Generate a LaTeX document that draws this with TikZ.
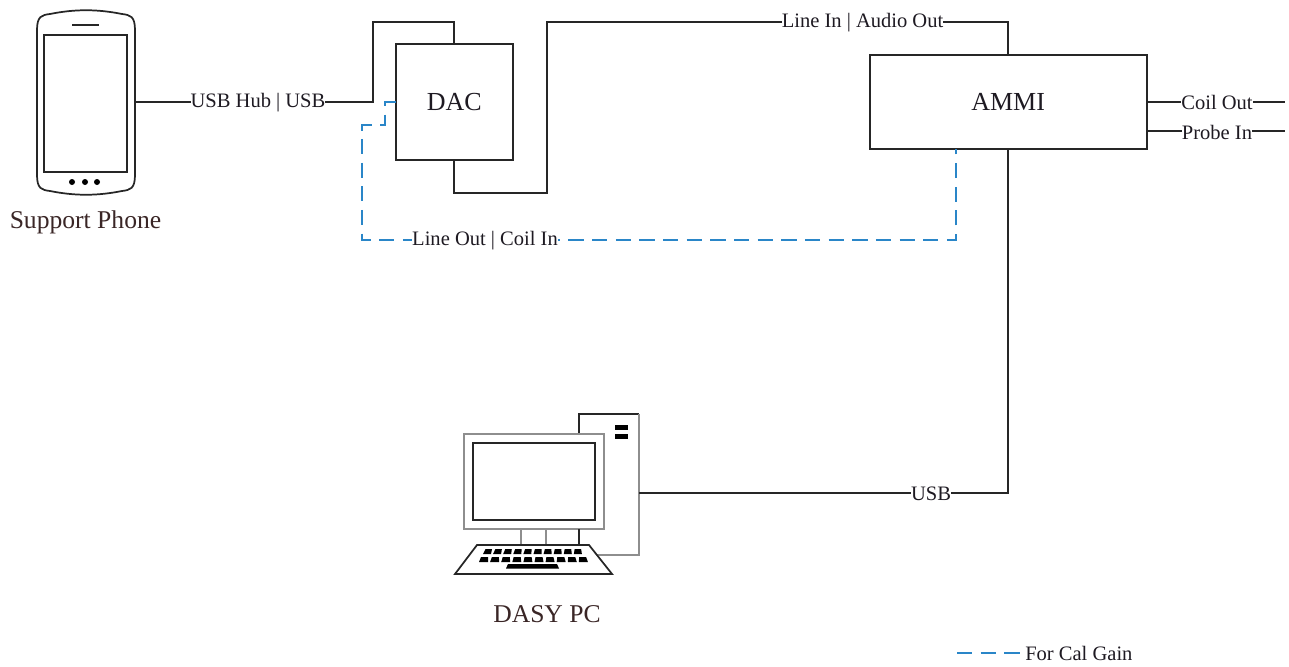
\documentclass[tikz,border=0pt]{standalone}
\usepackage{fontspec}
\setmainfont{Liberation Serif}
\definecolor{ink}{HTML}{262626}
\definecolor{txt}{HTML}{1E1A22}
\definecolor{cap}{HTML}{3A2626}
\definecolor{dashblue}{HTML}{2A86C8}
\definecolor{grayline}{HTML}{8E8E8E}
\tikzset{
  wire/.style={draw=ink,line width=1.4pt},
  dashwire/.style={draw=dashblue,line width=1.3pt,dash pattern=on 11.4pt off 6.34pt},
  blockbox/.style={draw=ink,line width=1.4pt,fill=white,font=\fontsize{19.5}{22}\selectfont,text=txt,inner sep=0pt},
  lbl/.style={fill=white,inner sep=0pt,font=\fontsize{15.4}{17}\selectfont,text=txt},
  capt/.style={inner sep=0pt,font=\fontsize{19.2}{22}\selectfont,text=cap},
  devline/.style={draw=ink,line width=1.3pt},
  grayedge/.style={draw=grayline,line width=2.1pt},
}
\begin{document}
\begin{tikzpicture}[x=0.75pt,y=-0.75pt]
\useasboundingbox (0,0) rectangle (1289,667);
% phone
\node[minimum width=73.5pt,minimum height=138.75pt,inner sep=0pt] (phone) at (86,102) {};
\draw[devline] (37,30) .. controls (37,16) and (42,15) .. (50,14) .. controls (75,9) and (97,9) .. (122,14)
  .. controls (130,15) and (135,16) .. (135,30) -- (135,175) .. controls (135,189) and (130,190) .. (122,191)
  .. controls (97,196) and (75,196) .. (50,191) .. controls (42,190) and (37,189) .. (37,175) -- cycle;
\draw[devline] (44,35) rectangle (127,172);
\draw[devline] (72,25) -- (99,25);
\foreach \px in {72,85,97} \fill[black] (\px,182) circle (3);
\node[capt] (phonecap) at (85.5,222) {Support Phone};
% computer
\node[minimum width=120pt,minimum height=120pt,inner sep=0pt] (pc) at (547,494) {};
\coordinate (pcport) at (639,493);
\draw[devline] (579,434) -- (579,414) -- (639,414);
\draw[grayedge] (639,414) -- (639,555) -- (597,555);
\draw[grayedge] (464,434) rectangle (604,529);
\draw[devline] (473,443) rectangle (595,520);
\draw[grayedge] (521,529) -- (521,545);
\draw[grayedge] (546,529) -- (546,545);
\draw[devline] (579,529) -- (579,545);
\fill[black] (615,425) rectangle (628,430);
\fill[black] (615,434) rectangle (628,439);
\draw[devline] (477,545) -- (589,545) -- (612,574) -- (455,574) -- cycle;
\foreach \k in {0,...,9} {
  \fill[black] ({485.5+\k*9.9},549) -- ({492+\k*9.9},549) -- ({491+\k*10.1},554) -- ({483+\k*10.1},554) -- cycle;
  \fill[black] ({481+\k*10.9},557) -- ({488+\k*10.9},557) -- ({488+\k*11.1},562) -- ({479+\k*11.1},562) -- cycle;
}
\fill[black] (508,564) -- (557,564) -- (559,568.5) -- (506,568.5) -- cycle;
\node[capt] (pccap) at (547,614) {DASY PC};
% blocks
\node[blockbox,minimum width=87.75pt,minimum height=87pt] (dac) at (454.3,102) {DAC};
\node[blockbox,minimum width=207.75pt,minimum height=70.5pt] (ammi) at (1008.1,102) {AMMI};
% route points
\coordinate (a1) at (373,102);
\coordinate (a2) at (373,22);
\coordinate (b1) at (454.3,193);
\coordinate (b2) at (547,193);
\coordinate (b3) at (547,22);
\coordinate (c1) at (1285,102);
\coordinate (c2) at (1285,131);
\coordinate (c3) at (1147,131);
\coordinate (d1) at (1008.1,493);
\coordinate (e0) at (396,102);
\coordinate (e1) at (385,102);
\coordinate (e2) at (385,125);
\coordinate (e3) at (362,125);
\coordinate (e4) at (362,240);
\coordinate (e5) at (956,240);
\coordinate (e6) at (956,149);
\coordinate (l1) at (957,653);
\coordinate (l2) at (1021,653);
% connectors
\draw[wire] (phone.east) -- (a1) -- (a2) -- (a2 -| dac.north) -- (dac.north);
\draw[wire] (dac.south) -- (b1) -- (b2) -- (b3) -- (b3 -| ammi.north) -- (ammi.north);
\draw[wire] (ammi.east) -- (c1);
\draw[wire] (c3) -- (c2);
\draw[wire] (pcport) -- (d1) -- (ammi.south);
\draw[dashwire] (e0) -- (e1) -- (e2) -- (e3) -- (e4) -- (e5) -- (e6);
\draw[dashwire] (l1) -- (l2);
% labels
\node[lbl] (lusb) at (258,103) {USB Hub | USB};
\node[lbl] (lline) at (862.5,22.5) {Line In | Audio Out};
\node[lbl] (lcoil) at (1217,102) {Coil Out};
\node[lbl] (lprobe) at (1217,132.5) {Probe In};
\node[lbl] (lcal) at (485,241) {Line Out | Coil In};
\node[lbl] (lpc) at (931,494) {USB};
\node[lbl,anchor=west] (lleg) at (1025,653) {For Cal Gain};
\end{tikzpicture}
\end{document}
